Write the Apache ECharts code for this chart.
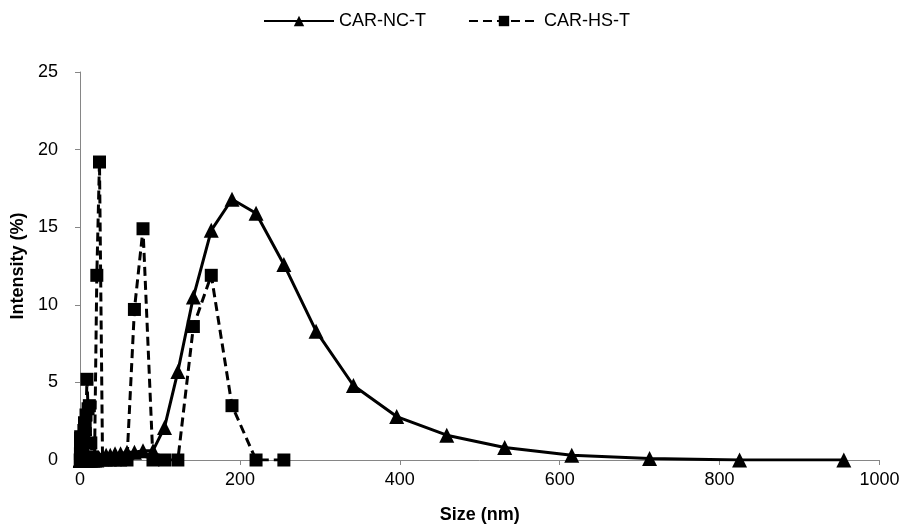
<!DOCTYPE html>
<html>
<head>
<meta charset="utf-8">
<script src="https://cdn.jsdelivr.net/npm/echarts@6/dist/echarts.min.js"></script>
<style>
  html, body { margin: 0; padding: 0; background: #fff; }
  #chart { width: 907px; height: 529px; }
</style>
</head>
<body>
<div id="chart"></div>
<script>
// Size bins (nm), log-spaced
const sizes = [0.4, 0.4632, 0.5365, 0.6213, 0.7195, 0.8332, 0.9649, 1.117, 1.294, 1.499,
  1.736, 2.01, 2.328, 2.696, 3.122, 3.615, 4.187, 4.849, 5.615, 6.503,
  7.531, 8.721, 10.1, 11.7, 13.54, 15.69, 18.17, 21.04, 24.36, 28.21,
  32.67, 37.84, 43.82, 50.75, 58.77, 68.06, 78.82, 91.28, 105.7, 122.4,
  141.8, 164.2, 190.1, 220.2, 255.0, 295.3, 342.0, 396.1, 458.7, 531.2,
  615.1, 712.4, 825.0, 955.4];

// Intensity (%) for CAR-NC-T, one value per size bin
const ncIntensity = [0, 0, 0, 0, 0, 0, 0, 0, 0, 0,
  0, 0, 0, 0, 0, 0, 0, 0, 0, 0,
  0, 0, 0, 0, 0, 0, 0, 0, 0.1, 0.2,
  0.3, 0.3, 0.4, 0.4, 0.5, 0.5, 0.6, 0.6, 2.1, 5.7,
  10.5, 14.8, 16.8, 15.9, 12.6, 8.3, 4.8, 2.8, 1.6, 0.8,
  0.3, 0.1, 0.0, 0.0];

// Intensity (%) for CAR-HS-T, size bins up to 255 nm
const hsIntensity = [0, 0, 0.4, 1.0, 1.4, 1.5, 1.2, 0.7, 0.3, 0.1,
  0, 0, 0, 0, 0.2, 0.6, 1.3, 1.9, 2.4, 2.2,
  2.9, 5.2, 3.3, 3.5, 1.1, 0.2, 0, 11.9, 19.2, 0,
  0, 0, 0, 0, 0, 9.7, 14.9, 0, 0, 0,
  8.6, 11.9, 3.5, 0, 0];

const xTicks = { min: 0, max: 1000, interval: 200 };
const yTicks = { min: 0, max: 25, interval: 5 };

const pairs = (vals) => vals.map((v, i) => [sizes[i], v]);

const font = 'Liberation Sans, Arial, sans-serif';
const axisGray = '#868686';

const chart = echarts.init(document.getElementById('chart'), null, { renderer: 'canvas' });
chart.setOption({
  animation: false,
  backgroundColor: '#ffffff',
  textStyle: { fontFamily: font, color: '#000' },
  legend: {
    top: 7,
    left: 258,
    itemWidth: 70,
    itemHeight: 13,
    itemGap: 42,
    textStyle: { fontFamily: font, fontSize: 18, color: '#000' },
    data: ['CAR-NC-T', 'CAR-HS-T']
  },
  grid: { left: 80, right: 27.5, top: 72, bottom: 67, containLabel: false },
  xAxis: {
    type: 'value',
    min: xTicks.min, max: xTicks.max, interval: xTicks.interval,
    name: 'Size (nm)',
    nameLocation: 'middle',
    nameGap: 46,
    nameTextStyle: { fontFamily: font, fontSize: 18, fontWeight: 'bold', color: '#000' },
    axisLine: { show: true, lineStyle: { color: axisGray, width: 1 } },
    axisTick: { show: true, inside: false, length: 5, lineStyle: { color: axisGray } },
    axisLabel: { fontFamily: font, fontSize: 18, color: '#000', margin: 11, formatter: (v) => String(v) },
    splitLine: { show: false }
  },
  yAxis: {
    type: 'value',
    min: yTicks.min, max: yTicks.max, interval: yTicks.interval,
    name: 'Intensity (%)',
    nameLocation: 'middle',
    nameGap: 53,
    nameTextStyle: { fontFamily: font, fontSize: 18, fontWeight: 'bold', color: '#000' },
    axisLine: { show: true, lineStyle: { color: axisGray, width: 1 } },
    axisTick: { show: true, inside: false, length: 5, lineStyle: { color: axisGray } },
    axisLabel: { fontFamily: font, fontSize: 18, color: '#000', margin: 22 },
    splitLine: { show: false }
  },
  series: [
    {
      name: 'CAR-NC-T',
      type: 'line',
      data: pairs(ncIntensity),
      symbol: 'triangle',
      symbolSize: 15,
      showAllSymbol: true,
      lineStyle: { color: '#000', width: 3, type: 'solid' },
      itemStyle: { color: '#000' },
      z: 2
    },
    {
      name: 'CAR-HS-T',
      type: 'line',
      data: pairs(hsIntensity),
      symbol: 'rect',
      symbolSize: 13,
      showAllSymbol: true,
      lineStyle: { color: '#000', width: 3, type: [9, 5] },
      itemStyle: { color: '#000' },
      z: 3
    }
  ]
});
</script>
</body>
</html>
